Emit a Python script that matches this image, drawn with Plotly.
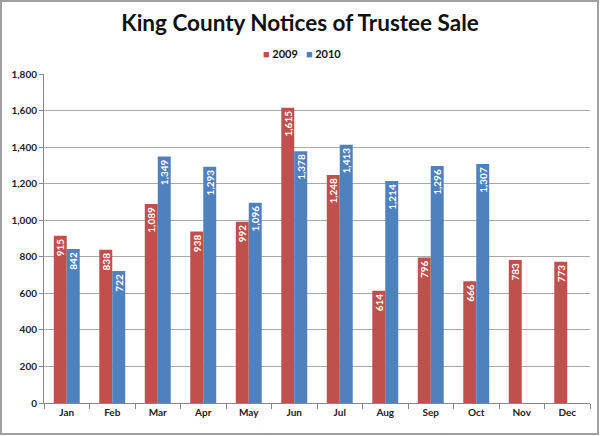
import plotly.graph_objects as go

months = ["Jan", "Feb", "Mar", "Apr", "May", "Jun", "Jul", "Aug", "Sep", "Oct", "Nov", "Dec"]
v2009 = [915, 838, 1089, 938, 992, 1615, 1248, 614, 796, 666, 783, 773]
v2010 = [842, 722, 1349, 1293, 1096, 1378, 1413, 1214, 1296, 1307, None, None]
series_names = ["2009", "2010"]

RED = "#C0504D"
BLUE = "#4F81BD"

def fmt(v):
    return "" if v is None else f"{v:,}"

fig = go.Figure()
for name, vals, col in [(series_names[0], v2009, RED), (series_names[1], v2010, BLUE)]:
    fig.add_trace(go.Bar(
        x=months, y=vals, name=name, marker_color=col,
        marker_line_width=0,
        text=[fmt(v) for v in vals], textposition="inside",
        insidetextanchor="end", textangle=-90,
        textfont=dict(color="white", size=10, family="Lato", weight="bold"),
    ))

L, R, T, B = 44, 10, 74, 33
W, H = 600, 436
pw, ph = W - L - R, H - T - B

legend_text = (f"<span style='color:{RED}'>■</span> {series_names[0]}   "
               f"<span style='color:{BLUE}'>■</span> {series_names[1]}")

fig.update_layout(
    width=W, height=H,
    margin=dict(l=L, r=R, t=T, b=B),
    paper_bgcolor="white", plot_bgcolor="white",
    barmode="group", bargap=0.43, bargroupgap=0,
    title=dict(text="<b>King County Notices of Trustee Sale</b>", x=0.5, xanchor="center",
               y=1 - 23 / H, yanchor="middle",
               font=dict(family="Lato", size=22.5, color="#111111")),
    showlegend=False,
    font=dict(family="Lato", color="#222222"),
    uniformtext=dict(minsize=10, mode="show"),
    annotations=[dict(text=f"<b>{legend_text}</b>", xref="paper", yref="paper",
                      x=(302 - L) / pw, y=1 + (T - 53) / ph, xanchor="center", yanchor="middle",
                      showarrow=False, font=dict(family="Lato", size=11, color="#111111"))],
    shapes=[dict(type="rect", xref="paper", yref="paper",
                 x0=(1 - L) / pw, x1=(W - 2 - L) / pw,
                 y0=(T + ph - (H - 2)) / ph, y1=(T + ph - 1) / ph,
                 line=dict(color="#A0A0A0", width=2), fillcolor="rgba(0,0,0,0)", layer="below")],
)
fig.update_xaxes(showline=True, linecolor="#888888", linewidth=1, ticks="outside",
                 tickcolor="#888888", ticklen=5, showgrid=False,
                 tickfont=dict(size=10, family="Lato", weight="bold", color="#222222"),
                 tickson="boundaries")
fig.update_yaxes(range=[0, 1800], dtick=200, tickformat=",", showline=True,
                 linecolor="#888888", linewidth=1, ticks="outside", tickcolor="#888888",
                 ticklen=4, gridcolor="#AAAAAA", gridwidth=1, zeroline=False,
                 tickfont=dict(size=10, family="Lato", weight="bold", color="#222222"))

fig.write_html("out.html", config={"displayModeBar": False},
               post_script="document.body.style.margin='0';")
